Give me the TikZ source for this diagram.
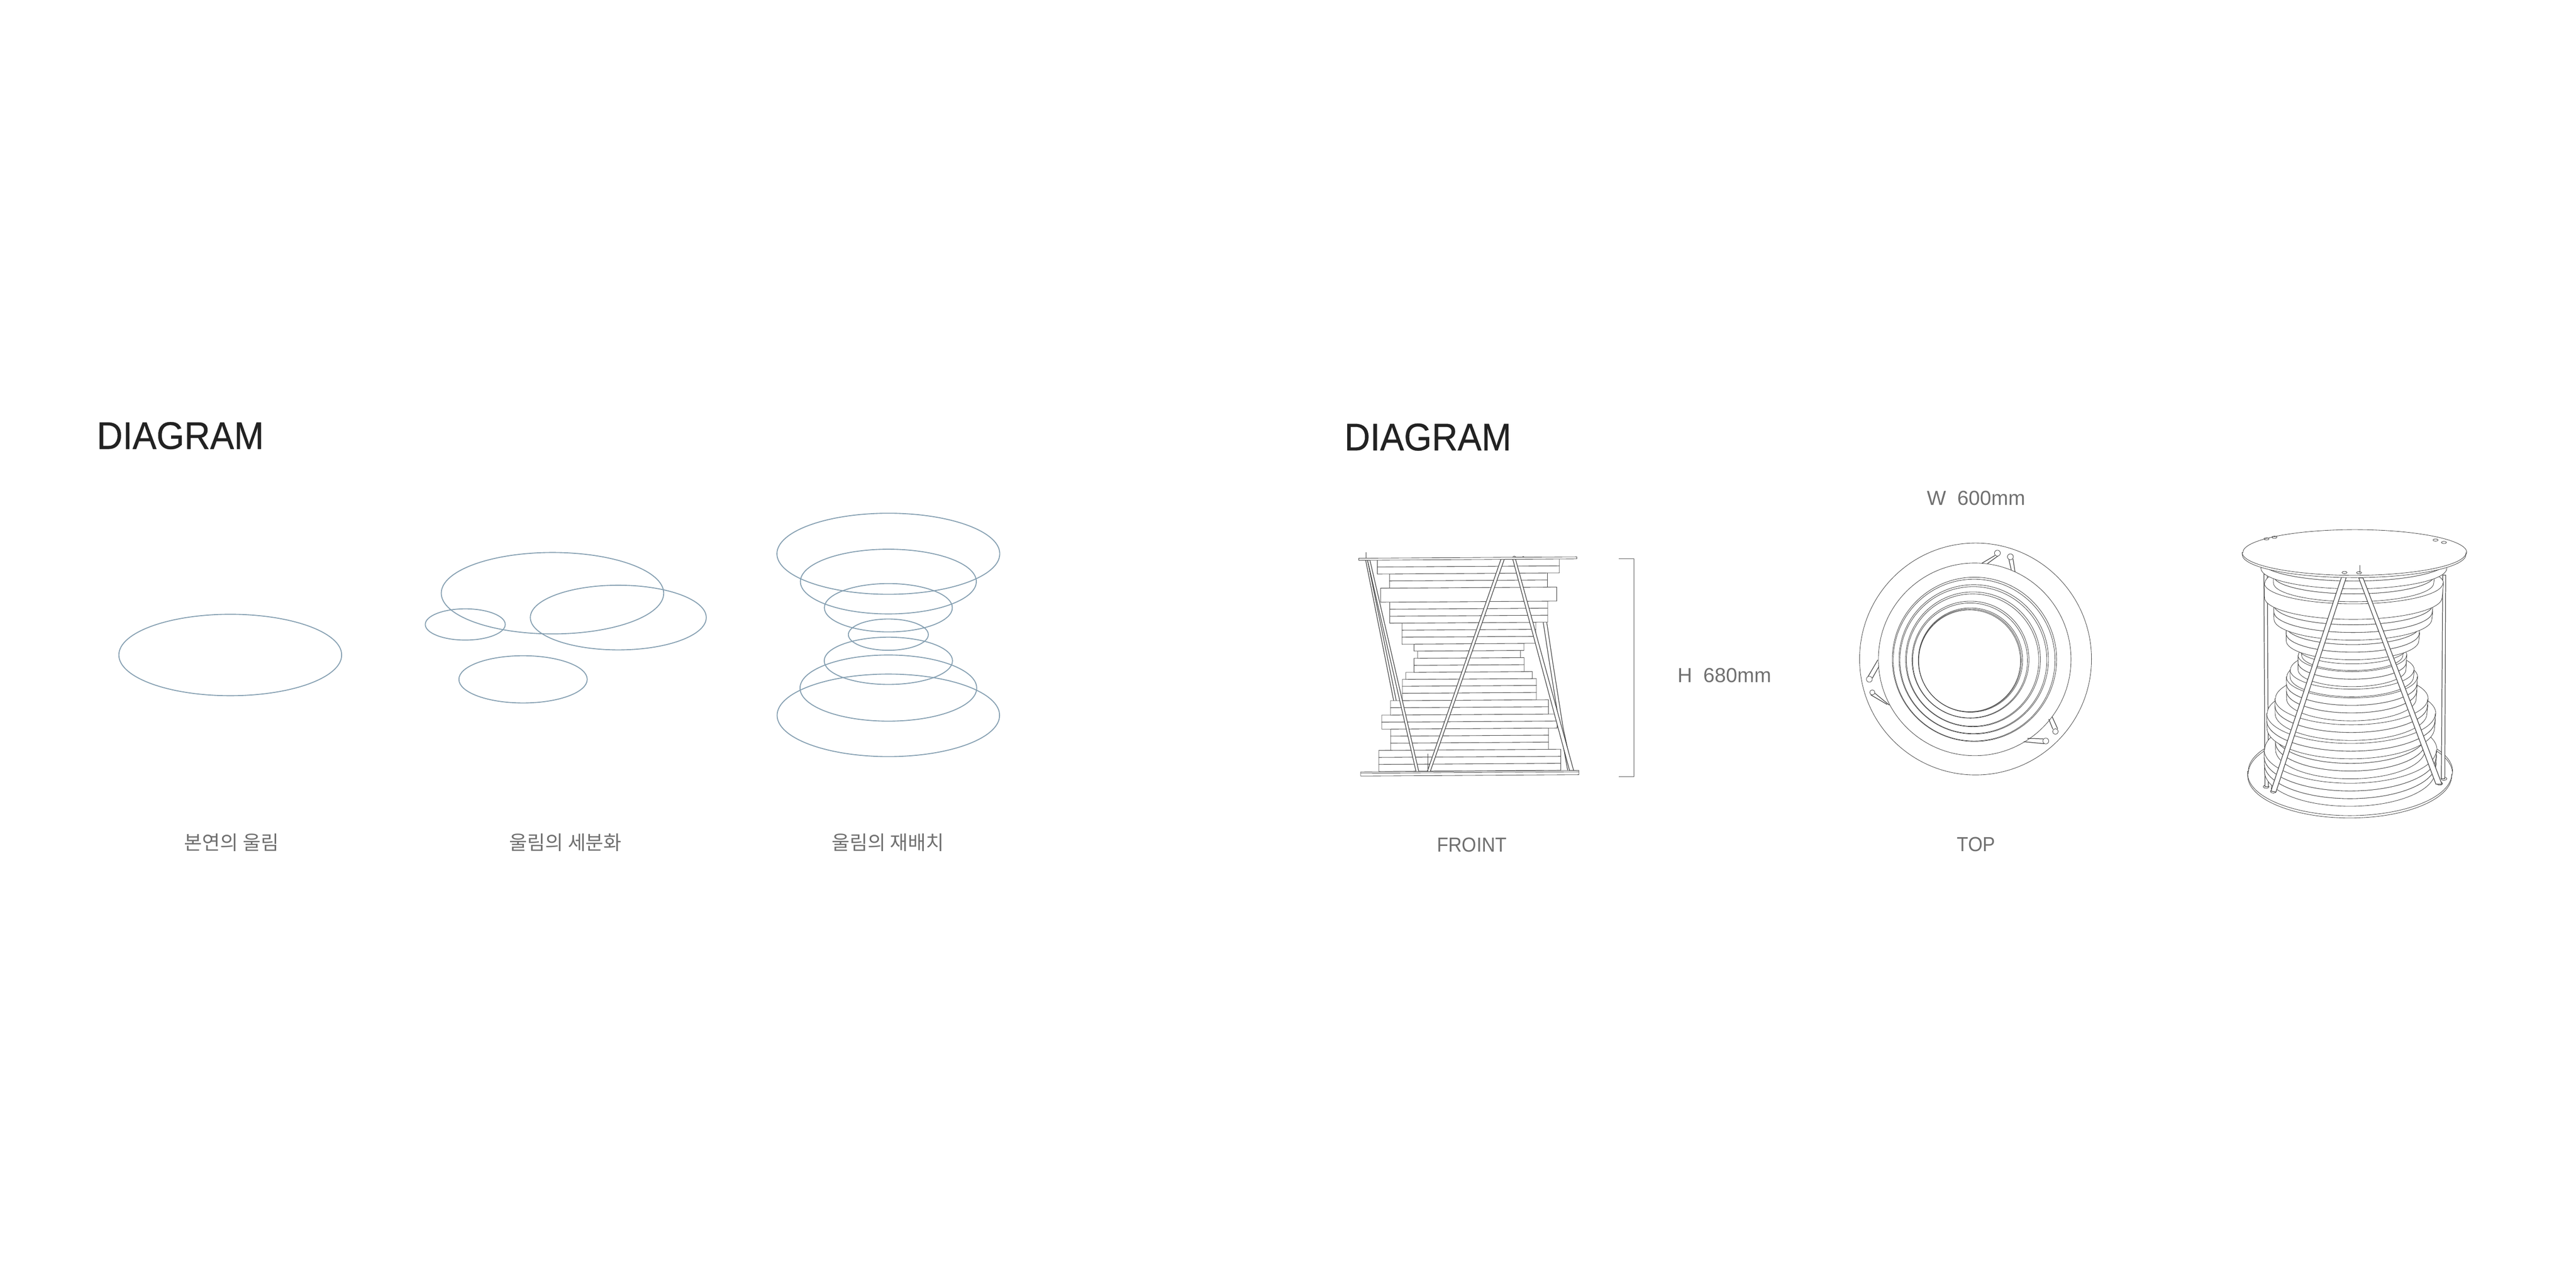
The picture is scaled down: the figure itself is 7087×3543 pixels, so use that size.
\documentclass[tikz,border=0pt]{standalone}
\usepackage{fontspec}
\setmainfont{Liberation Sans}
\newfontfamily\krfont{Noto Sans CJK KR}
\newfontfamily\narrowfont[FakeStretch=0.92]{Liberation Sans}
\newfontfamily\titlefont[FakeStretch=0.93, FakeBold=0.5]{Liberation Sans}
\definecolor{ringblue}{HTML}{86A0B2}
\definecolor{labelgray}{HTML}{707070}
\definecolor{titledark}{HTML}{222222}
\definecolor{linedark}{HTML}{444444}
\tikzset{
  ring/.style={draw=ringblue, line width=.75pt},
  part/.style={draw=linedark, line width=.34pt},
  solid part/.style={part, fill=white},
  leg/.style={solid part, line width=.5pt},
  title/.style={anchor=base west, text=titledark, font=\titlefont\fontsize{30.1}{31}\selectfont},
  label/.style={anchor=base, text=labelgray, font=\fontsize{15.9}{18}\selectfont},
  kr label/.style={anchor=base, text=labelgray, font=\krfont\fontsize{15.3}{18}\selectfont},
  frontview/.style={shift={(3650,1450)}, x=.005102cm, y=-.004591cm},
  topview/.style={shift={(5050,1450)}, x=.005102cm, y=-.004591cm},
  isoview/.style={shift={(6100,1420)}, x=.004719cm, y=-.005485cm},
}
% left, right, top, bottom of each layer, from the base upward
\def\layerlist{281/1263/1423/1465, 281/1263/1381/1423, 281/1263/1339/1381,
  345/1197/1296/1339, 345/1197/1254/1296, 345/1197/1212/1254,
  297/1243/1170/1212, 297/1243/1128/1170, 344/1196/1084/1128, 344/1196/1042/1084,
  408/1131/998/1042, 408/1131/956/998, 408/1131/915/956, 427/1109/873/915,
  471/1065/831/873, 471/1065/789/831, 491/1045/746/789, 471/1064/704/746,
  406/1128/662/704, 406/1128/620/662, 406/1128/578/620,
  340/1192/536/578, 340/1192/494/536, 340/1192/452/494, 291/1241/368/452,
  339/1191/325/368, 339/1191/283/325, 273/1255/241/283, 273/1255/198/241}
% half width, top and bottom height in the front view
\newcommand{\isodisc}[3]{
  \pgfmathsetmacro\ta{(#2-190)/1275}
  \pgfmathsetmacro\tb{(#3-190)/1275}
  \pgfmathsetmacro\rxa{#1*(1.03-.09*\ta)}
  \pgfmathsetmacro\rxb{#1*(1.03-.09*\tb)}
  \pgfmathsetmacro\rya{\rxa*(.204+.206*\ta)}
  \pgfmathsetmacro\ryb{\rxb*(.204+.206*\tb)}
  \pgfmathsetmacro\cxa{6477.5-12*\ta}
  \pgfmathsetmacro\cxb{6477.5-12*\tb}
  \pgfmathsetmacro\cya{1520+602*\ta}
  \pgfmathsetmacro\cyb{1520+602*\tb}
  \pgfmathsetmacro\pxa{\rxa*.28346}
  \pgfmathsetmacro\pya{\rya*.28346}
  \pgfmathsetmacro\pxb{\rxb*.28346}
  \pgfmathsetmacro\pyb{\ryb*.28346}
  \draw[solid part] ({\cxa-\rxa},\cya) -- ({\cxb-\rxb},\cyb)
    arc[start angle=180, end angle=360, x radius=\pxb pt, y radius=\pyb pt]
    -- ({\cxa+\rxa},\cya)
    arc[start angle=0, end angle=180, x radius=\pxa pt, y radius=\pya pt] -- cycle;
  \draw[part] ({\cxa-\rxa},\cya)
    arc[start angle=180, end angle=360, x radius=\pxa pt, y radius=\pya pt];
}

\begin{document}
\begin{tikzpicture}[x=.01cm, y=-.01cm]
\fill[white] (0,0) rectangle (7087,3543);
\useasboundingbox (0,0) rectangle (7087,3543);

% titles
\node[title] (titleleft) at (254,1235) {DIAGRAM};
\node[title] (titleright) at (3686,1239) {DIAGRAM};

% first ripple
\draw[ring] (633.5,1802) ellipse [x radius=306.5, y radius=112];

% split ripple
\foreach \cx/\cy/\rx/\ry in {1520/1632/306/112, 1701/1699/242/89, 1280/1718/110/43, 1439/1869/176.5/65}
  \draw[ring] (\cx,\cy) ellipse [x radius=\rx, y radius=\ry];

% stacked ripple
\foreach \cy/\rx/\ry in {1523.5/306.5/111.5, 1600/242/89, 1672/176/66.5, 1746/110/43, 1818/176.5/65, 1893/243/91, 1968/306/113.5}
  \draw[ring] (2444,\cy) ellipse [x radius=\rx, y radius=\ry];

\node[kr label] (labelfirst) at (637,2338) {본연의 울림};
\node[kr label] (labelsplit) at (1556,2338) {울림의 세분화};
\node[kr label] (labelstack) at (2443,2338) {울림의 재배치};

% front view
\begin{scope}[frontview]
\draw[part, line width=.5pt] (210,198) -- (362,1044) (220,198) -- (376,1044);
\draw[part, line width=.5pt] (1168,570) -- (1200,800) -- (1258,1200) -- (1300,1457);
\draw[part, line width=.5pt] (1187,570) -- (1218,800) -- (1275,1200) -- (1325,1457);
\begin{scope}[yslant=.0063]
\foreach \xl/\xr/\ya/\yb in \layerlist
  \draw[solid part] (\xl,\ya) rectangle (\xr,\yb);
\end{scope}
\draw[leg] (220,198) -- (482,1465) -- (497,1465) -- (233,198) -- cycle;
\draw[leg] (940,193) -- (542,1465) -- (558,1465) -- (958,193) -- cycle;
\draw[leg] (1003,190) -- (1310,1457) -- (1332,1457) -- (1018,190) -- cycle;
\draw[part] (213,150) -- (213,186) (545,1358) -- (545,1462);
\begin{scope}[yslant=.0063]
\draw[solid part] (173,188) rectangle (1349,200);
\draw[solid part] (183,1467) rectangle (1361,1492);
\draw[part] (183,1475) -- (1361,1475);
\end{scope}
\draw[part] (1003,182) .. controls (1006,172) and (1016,172) .. (1020,180);
\draw[part] (1054,181) .. controls (1057,175) and (1062,175) .. (1066,180);
\end{scope}

% height mark
\coordinate (marktop) at (4453,1537);
\coordinate (markbottom) at (4453,2137);
\draw[draw=labelgray!80!black, line width=.55pt] (marktop) -- (4495,1537) -- (4495,2137) -- (markbottom);
\node[label, anchor=base west] (labelheight) at (4603,1878) {H\ \ 680mm};
\node[label, font=\narrowfont\fontsize{15.9}{18}\selectfont] (labelfront) at (4049.5,2344) {FROINT};

% top view
\node[label, anchor=base west] (labelwidth) at (5289,1390) {W\ \ 600mm};
\node[label, font=\narrowfont\fontsize{15.9}{18}\selectfont] (labeltop) at (5437,2342) {TOP};
\foreach \cx/\cy/\r in {5435/1813/319, 5432.7/1814/265, 5432/1814/226, 5431/1816/222.5, 5430/1814/205.5,
  5429/1816/202, 5428/1814/185.5, 5427/1816/182, 5421/1815/161, 5420/1817/158,
  5421/1816/143.5, 5419.5/1817/141.5, 5418.5/1818/140}
  \draw[part] (\cx,\cy) circle [radius=\r];
\begin{scope}[topview]
\foreach \ax/\ay/\bx/\by/\cx/\cy/\dx/\dy in {860/170/790/216/820/218/880/170, 935/195/948/258/968/268/957/190,
  175/895/228/795/232/838/198/905, 190/1005/278/1062/290/1066/212/995,
  1172/1210/1150/1150/1168/1135/1198/1208, 1120/1268/1035/1265/1015/1285/1125/1297}
  \draw[part, line width=.5pt] (\ax,\ay) -- (\bx,\by) (\cx,\cy) -- (\dx,\dy);
\foreach \px/\py/\r in {873/156/2.3, 943/178/2.3, 182/911/2.3, 198/990/2, 1186/1224/2.2, 1134/1281/2.3}
  \draw[solid part] (\px,\py) circle [radius=\r pt];
\end{scope}

% view from above
\isodisc{300}{1465}{1478}
\isodisc{300}{1478}{1491}
\begin{scope}[isoview]
\foreach \px/\py in {285/1358, 327/1382, 1297/1342, 1322/1318}
  \draw[part] (\px,\py) ellipse [x radius=2.3pt, y radius=1.3pt];
\draw[leg] (272,292) -- (278,1358) -- (298,1358) -- (292,292) -- cycle;
\draw[leg] (1315,296) -- (1307,1318) -- (1327,1318) -- (1332,296) -- cycle;
\draw[part] (320,1300) -- (315,1370) (332,1300) -- (330,1360);
\end{scope}
\foreach \xl/\xr/\ya/\yb in \layerlist {
  \pgfmathsetmacro\halfw{(\xr-\xl)/3.92}
  \isodisc{\halfw}{\ya}{\yb}
}
\begin{scope}[isoview]
\draw[leg] (725,305) -- (313,1380) -- (342,1385) -- (752,308) -- cycle;
\draw[leg] (825,310) -- (1275,1345) -- (1310,1345) -- (850,310) -- cycle;
\end{scope}
\isodisc{300}{190}{202}
\begin{scope}[isoview]
\foreach \px/\py in {287/114, 333/106, 1273/120, 1322/132, 742/283, 827/284}
  \draw[part] (\px,\py) ellipse [x radius=2pt, y radius=.9pt];
\draw[part] (832,247) -- (832,285);
\end{scope}
\end{tikzpicture}
\end{document}
